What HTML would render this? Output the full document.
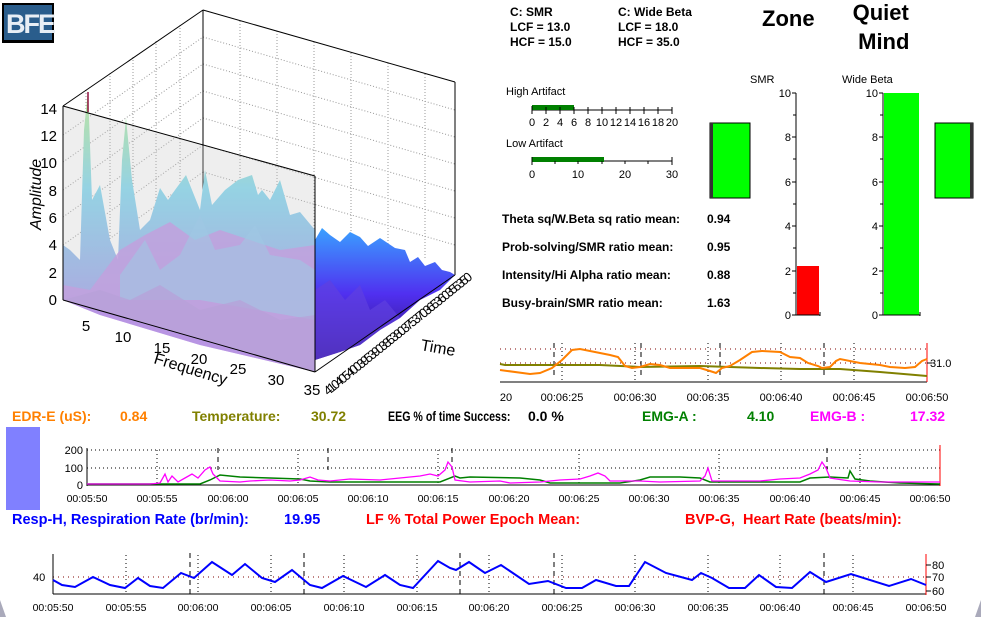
<!DOCTYPE html>
<html><head><meta charset="utf-8"><style>
body{margin:0;width:981px;height:617px;background:#fff;overflow:hidden;position:relative;font-family:"Liberation Sans",sans-serif}
.t{position:absolute;white-space:nowrap;font-weight:bold;font-size:12px;line-height:14px}
.b{position:absolute;white-space:nowrap;font-weight:bold;font-size:14px;line-height:17px}
.c{position:absolute;white-space:nowrap;font-weight:bold;font-size:14.5px;line-height:17px}
</style></head><body>
<svg width="981" height="617" style="position:absolute;left:0;top:0" font-family="Liberation Sans, sans-serif">
<defs>
<linearGradient id="pg" x1="0" y1="0" x2="0" y2="1"><stop offset="0" stop-color="#b8f090"/><stop offset="0.35" stop-color="#80d8f0"/><stop offset="1" stop-color="#b080e8"/></linearGradient>
<linearGradient id="bg" x1="0" y1="0" x2="0" y2="1"><stop offset="0" stop-color="#3aa0ff"/><stop offset="0.5" stop-color="#5030f0"/><stop offset="1" stop-color="#301070"/></linearGradient>
</defs>
<rect x="2" y="3" width="52" height="40" fill="#000"/><rect x="4" y="5" width="48" height="35" fill="#2a5d8c"/>
<text x="6" y="33" font-size="27" font-weight="bold" fill="#e8eef5" letter-spacing="-2">BFE</text>
<g stroke="#999" stroke-dasharray="1,2" stroke-width="1" fill="none">
<line x1="203" y1="37" x2="455" y2="110"/><line x1="203" y1="64" x2="455" y2="137"/><line x1="203" y1="91" x2="455" y2="164"/><line x1="203" y1="118" x2="455" y2="191"/><line x1="203" y1="145" x2="455" y2="218"/><line x1="203" y1="172" x2="455" y2="245"/>
<line x1="240" y1="21" x2="240" y2="250"/><line x1="277" y1="31" x2="277" y2="250"/><line x1="314" y1="42" x2="314" y2="250"/><line x1="351" y1="53" x2="351" y2="250"/><line x1="388" y1="63" x2="388" y2="250"/><line x1="425" y1="74" x2="425" y2="260"/>
<line x1="63" y1="135" x2="203" y2="37"/><line x1="63" y1="162" x2="203" y2="64"/><line x1="63" y1="190" x2="203" y2="91"/><line x1="63" y1="217" x2="203" y2="118"/><line x1="63" y1="245" x2="203" y2="145"/><line x1="63" y1="272" x2="203" y2="172"/>
<line x1="86" y1="90" x2="86" y2="290"/><line x1="110" y1="73" x2="110" y2="290"/><line x1="133" y1="57" x2="133" y2="290"/><line x1="156" y1="41" x2="156" y2="290"/><line x1="180" y1="25" x2="180" y2="290"/>
</g>
<g stroke="#000" stroke-width="1" fill="none">
<line x1="63" y1="106" x2="203" y2="10"/><line x1="203" y1="10" x2="455" y2="82"/><line x1="203" y1="10" x2="203" y2="200"/><line x1="455" y1="82" x2="455" y2="275"/>
</g>
<polygon fill="url(#pg)" points="63,245 70,250 80,260 84,130 88,90 92,200 100,185 110,240 118,260 122,160 126,118 132,180 140,230 150,220 160,188 168,200 175,190 186,175 200,210 205,170 212,205 225,190 238,180 252,175 258,195 262,190 270,200 280,180 290,215 300,212 315,230 315,372 63,300"/>
<polygon fill="#c090e8" opacity="0.85" points="63,285 90,290 120,250 145,235 170,222 195,240 220,230 250,240 280,250 315,245 315,372 200,345 100,315 63,300"/>
<polygon fill="#90c8f0" opacity="0.6" points="120,275 145,240 160,270 180,255 200,215 215,250 240,245 255,225 270,255 300,260 315,270 315,320 200,300 120,300"/>
<polygon fill="#b090e0" opacity="0.7" points="63,300 100,290 130,300 160,285 200,310 240,300 280,320 315,315 315,372 200,345 100,315"/>
<polygon fill="url(#bg)" points="315,240 322,228 330,235 340,242 350,232 360,237 368,246 380,238 395,248 405,250 410,262 418,257 425,266 435,262 442,270 450,272 455,275 440,290 420,300 400,318 380,330 360,345 340,352 315,360"/>
<polygon fill="#6040e0" opacity="0.7" points="315,290 330,280 345,300 360,285 370,310 385,300 400,318 380,330 360,345 340,352 315,360"/>
<polygon fill="#c8c8c8" opacity="0.3" points="63,106 315,176 315,372 63,300"/>
<g stroke="#000" fill="none"><line x1="63" y1="106" x2="315" y2="176"/><line x1="315" y1="176" x2="315" y2="372"/><line x1="63" y1="106" x2="63" y2="300"/><line x1="63" y1="300" x2="315" y2="372"/><line x1="315" y1="372" x2="455" y2="275"/></g>
<line x1="88" y1="92" x2="88" y2="112" stroke="#901040" stroke-width="1.5"/>
<g font-size="15" fill="#000" text-anchor="end">
<text x="57" y="305">0</text><text x="57" y="278">2</text><text x="57" y="250">4</text><text x="57" y="223">6</text><text x="57" y="196">8</text><text x="57" y="168">10</text><text x="57" y="141">12</text><text x="57" y="114">14</text>
</g>
<text transform="translate(41,230) rotate(-90)" font-size="16" font-style="italic">Amplitude</text>
<g font-size="15" fill="#000" text-anchor="middle">
<text x="86" y="331">5</text><text x="123" y="342">10</text><text x="162" y="353">15</text><text x="199" y="364">20</text><text x="238" y="374">25</text><text x="276" y="385">30</text><text x="312" y="395">35</text>
</g>
<text transform="translate(153,363) rotate(17)" font-size="16">Frequency</text>
<text transform="translate(328,396) rotate(-39)" font-size="13" letter-spacing="-2.5">410405400395390385380375370365360355350</text>
<text x="420" y="350" font-size="16" transform="rotate(10 420 350)">Time</text>
<g stroke="#000" fill="none">
<line x1="532" y1="110" x2="672" y2="110"/><line x1="532" y1="161" x2="672" y2="161"/>
</g>
<rect x="532" y="105" width="42" height="5" fill="#008000"/>
<rect x="532" y="157" width="72" height="5" fill="#008000"/>
<g stroke="#000">
<line x1="532" y1="106" x2="532" y2="114"/><line x1="546" y1="107" x2="546" y2="114"/><line x1="560" y1="107" x2="560" y2="114"/><line x1="574" y1="107" x2="574" y2="114"/><line x1="588" y1="107" x2="588" y2="114"/><line x1="602" y1="107" x2="602" y2="114"/><line x1="616" y1="107" x2="616" y2="114"/><line x1="630" y1="107" x2="630" y2="114"/><line x1="644" y1="107" x2="644" y2="114"/><line x1="658" y1="107" x2="658" y2="114"/><line x1="672" y1="107" x2="672" y2="114"/>
<line x1="532" y1="157" x2="532" y2="165"/><line x1="555" y1="161" x2="555" y2="164"/><line x1="578" y1="161" x2="578" y2="164"/><line x1="602" y1="161" x2="602" y2="164"/><line x1="625" y1="161" x2="625" y2="164"/><line x1="648" y1="161" x2="648" y2="164"/><line x1="672" y1="157" x2="672" y2="165"/>
</g>
<g font-size="11" text-anchor="middle">
<text x="532" y="126">0</text><text x="546" y="126">2</text><text x="560" y="126">4</text><text x="574" y="126">6</text><text x="588" y="126">8</text><text x="602" y="126">10</text><text x="616" y="126">12</text><text x="630" y="126">14</text><text x="644" y="126">16</text><text x="658" y="126">18</text><text x="672" y="126">20</text>
<text x="532" y="178">0</text><text x="578" y="178">10</text><text x="625" y="178">20</text><text x="672" y="178">30</text>
</g>
<text x="506" y="95" font-size="11">High Artifact</text><text x="506" y="147" font-size="11">Low Artifact</text>
<rect x="710" y="123" width="40" height="75" fill="#00ff00" stroke="#000"/><rect x="710" y="123" width="3" height="75" fill="#333"/>
<rect x="935" y="123" width="38" height="75" fill="#00ff00" stroke="#000"/><rect x="970" y="123" width="3" height="75" fill="#333"/>
<text x="750" y="83" font-size="11">SMR</text><text x="842" y="83" font-size="11">Wide Beta</text>
<rect x="797" y="266" width="22" height="49" fill="#ff0000"/>
<rect x="884" y="93" width="35" height="222" fill="#00ff00"/>
<g stroke="#000"><line x1="796" y1="93" x2="796" y2="315"/><line x1="796" y1="315" x2="820" y2="315"/><line x1="820" y1="312" x2="820" y2="316"/>
<line x1="883" y1="93" x2="883" y2="315"/><line x1="883" y1="315" x2="920" y2="315"/><line x1="920" y1="312" x2="920" y2="316"/>
<path d="M792 93h4M793 115h3M792 137h4M793 159h3M792 182h4M793 204h3M792 226h4M793 248h3M792 271h4M793 293h3M792 315h4"/>
<path d="M879 93h4M880 115h3M879 137h4M880 159h3M879 182h4M880 204h3M879 226h4M880 248h3M879 271h4M880 293h3M879 315h4"/>
</g>
<g font-size="11" text-anchor="end">
<text x="791" y="97">10</text><text x="791" y="141">8</text><text x="791" y="186">6</text><text x="791" y="230">4</text><text x="791" y="275">2</text><text x="791" y="319">0</text>
<text x="878" y="97">10</text><text x="878" y="141">8</text><text x="878" y="186">6</text><text x="878" y="230">4</text><text x="878" y="275">2</text><text x="878" y="319">0</text>
</g>
<g stroke="#800000" stroke-dasharray="1,4"><line x1="500" y1="349" x2="927" y2="349"/><line x1="500" y1="363" x2="927" y2="363"/></g>
<g stroke="#000" stroke-dasharray="1,3"><line x1="635" y1="343" x2="635" y2="382"/><line x1="708" y1="343" x2="708" y2="382"/><line x1="781" y1="343" x2="781" y2="382"/><line x1="854" y1="343" x2="854" y2="382"/><line x1="562" y1="343" x2="562" y2="382"/></g>
<g stroke="#000" stroke-dasharray="5,4"><line x1="554" y1="343" x2="554" y2="375"/><line x1="641" y1="343" x2="641" y2="375"/><line x1="720" y1="343" x2="720" y2="375"/><line x1="824" y1="343" x2="824" y2="375"/></g>
<line x1="500" y1="382" x2="927" y2="382" stroke="#000"/>
<line x1="927" y1="343" x2="927" y2="382" stroke="#ff0000"/>
<line x1="927" y1="363" x2="932" y2="363" stroke="#000"/>
<polyline fill="none" stroke="#808000" stroke-width="2" points="500,364 505,365 600,365 640,367 700,366 760,368 800,369 840,369 880,372 927,376"/>
<polyline fill="none" stroke="#ff8000" stroke-width="2" points="500,370 530,374 540,373 552,368 562,360 572,350 580,349 600,353 610,355 618,357 625,366 632,368 640,367 650,364 660,365 670,368 680,368 700,368 710,371 716,373 722,368 730,366 740,360 752,352 762,351 780,352 790,357 800,358 808,363 818,366 822,368 830,367 836,361 840,359 860,363 880,365 890,367 905,368 915,367 922,361 927,359"/>
<g font-size="11" text-anchor="middle"><text x="506" y="401">20</text><text x="562" y="401">00:06:25</text><text x="635" y="401">00:06:30</text><text x="708" y="401">00:06:35</text><text x="781" y="401">00:06:40</text><text x="854" y="401">00:06:45</text><text x="927" y="401">00:06:50</text></g>
<text x="930" y="367" font-size="11">31.0</text>
<rect x="6" y="427" width="34" height="83" fill="#8080ff"/>
<g stroke="#000" stroke-dasharray="1,3"><line x1="87" y1="450" x2="940" y2="450"/><line x1="87" y1="468" x2="940" y2="468"/>
<line x1="157" y1="450" x2="157" y2="485"/><line x1="298" y1="450" x2="298" y2="485"/><line x1="438" y1="450" x2="438" y2="485"/><line x1="579" y1="450" x2="579" y2="485"/><line x1="719" y1="450" x2="719" y2="485"/><line x1="860" y1="450" x2="860" y2="485"/></g>
<g stroke="#000" stroke-dasharray="5,4"><line x1="218" y1="448" x2="218" y2="470"/><line x1="328" y1="448" x2="328" y2="470"/><line x1="452" y1="448" x2="452" y2="470"/><line x1="827" y1="448" x2="827" y2="470"/></g>
<line x1="87" y1="448" x2="87" y2="486" stroke="#000"/><line x1="87" y1="485" x2="940" y2="485" stroke="#000"/>
<line x1="940" y1="445" x2="940" y2="486" stroke="#ff0000"/>
<g font-size="11" text-anchor="end"><text x="83" y="454">200</text><text x="83" y="472">100</text><text x="83" y="489">0</text></g>
<polyline fill="none" stroke="#008000" stroke-width="1.5" points="87,484 200,484 210,480 220,475 240,477 270,478 300,479 310,481 330,482 420,482 440,482 455,476 460,478 470,477 520,478 540,480 550,483 620,483 640,480 650,477 680,477 700,478 710,482 780,482 800,482 810,478 830,477 848,478 850,471 855,479 870,481 900,483 940,484"/>
<polyline fill="none" stroke="#ff00ff" stroke-width="1.3" points="87,484 150,484 160,483 165,474 168,482 172,476 178,482 185,478 192,474 198,478 205,470 210,467 213,474 220,481 240,482 250,481 270,480 290,481 300,480 310,477 318,480 330,481 350,479 380,480 400,478 420,476 430,474 438,476 445,470 448,462 452,467 455,480 470,482 500,481 510,483 540,482 560,480 580,479 590,476 598,473 605,476 610,481 640,481 660,482 700,481 705,476 708,468 712,481 760,481 780,479 800,478 810,474 818,470 822,462 826,468 830,478 850,481 880,482 940,482"/>
<g font-size="10.5" text-anchor="middle"><text x="87" y="502">00:05:50</text><text x="157" y="502">00:05:55</text><text x="228" y="502">00:06:00</text><text x="298" y="502">00:06:05</text><text x="368" y="502">00:06:10</text><text x="438" y="502">00:06:15</text><text x="509" y="502">00:06:20</text><text x="579" y="502">00:06:25</text><text x="649" y="502">00:06:30</text><text x="719" y="502">00:06:35</text><text x="790" y="502">00:06:40</text><text x="860" y="502">00:06:45</text><text x="930" y="502">00:06:50</text></g>
<line x1="53" y1="577" x2="926" y2="577" stroke="#800000" stroke-dasharray="1,4"/>
<g stroke="#000" stroke-dasharray="1,3"><line x1="126" y1="555" x2="126" y2="594"/><line x1="198" y1="555" x2="198" y2="594"/><line x1="271" y1="555" x2="271" y2="594"/><line x1="344" y1="555" x2="344" y2="594"/><line x1="417" y1="555" x2="417" y2="594"/><line x1="489" y1="555" x2="489" y2="594"/><line x1="562" y1="555" x2="562" y2="594"/><line x1="635" y1="555" x2="635" y2="594"/><line x1="708" y1="555" x2="708" y2="594"/><line x1="780" y1="555" x2="780" y2="594"/><line x1="853" y1="555" x2="853" y2="594"/></g>
<g stroke="#000" stroke-dasharray="5,4"><line x1="190" y1="553" x2="190" y2="594"/><line x1="304" y1="553" x2="304" y2="594"/><line x1="460" y1="553" x2="460" y2="594"/><line x1="554" y1="553" x2="554" y2="594"/><line x1="824" y1="553" x2="824" y2="594"/></g>
<line x1="53" y1="554" x2="53" y2="594" stroke="#000"/><line x1="53" y1="594" x2="926" y2="594" stroke="#000"/>
<line x1="926" y1="554" x2="926" y2="595" stroke="#ff0000"/>
<path d="M926 565h5M926 577h5M926 591h5" stroke="#000"/>
<g font-size="11"><text x="33" y="581">40</text><text x="932" y="569">80</text><text x="932" y="581">70</text><text x="932" y="595">60</text></g>
<polyline fill="none" stroke="#0000ff" stroke-width="2" points="53,580 62,585 75,587 93,577 110,585 125,588 138,578 150,586 163,588 181,573 194,578 212,562 232,575 245,564 262,578 275,582 292,570 310,585 322,588 343,576 366,587 385,575 400,585 413,588 438,561 450,568 456,570 469,562 485,573 501,565 529,584 548,581 566,588 582,588 596,580 616,586 629,586 645,562 666,573 692,580 701,573 712,578 729,588 745,588 759,575 776,587 792,588 810,572 826,582 851,574 889,586 911,579 926,585"/>
<g font-size="10.5" text-anchor="middle"><text x="53" y="611">00:05:50</text><text x="126" y="611">00:05:55</text><text x="198" y="611">00:06:00</text><text x="271" y="611">00:06:05</text><text x="344" y="611">00:06:10</text><text x="417" y="611">00:06:15</text><text x="489" y="611">00:06:20</text><text x="562" y="611">00:06:25</text><text x="635" y="611">00:06:30</text><text x="708" y="611">00:06:35</text><text x="780" y="611">00:06:40</text><text x="853" y="611">00:06:45</text><text x="926" y="611">00:06:50</text></g>
<polygon points="0,600 6,617 0,617" fill="#aab"/><polygon points="981,600 975,617 981,617" fill="#aab"/>
</svg>
<div class="t" style="left:510px;top:5px">C: SMR</div>
<div class="t" style="left:510px;top:20px">LCF = 13.0</div>
<div class="t" style="left:510px;top:35px">HCF = 15.0</div>
<div class="t" style="left:618px;top:5px">C: Wide Beta</div>
<div class="t" style="left:618px;top:20px">LCF = 18.0</div>
<div class="t" style="left:618px;top:35px">HCF = 35.0</div>
<div class="t" style="left:762px;top:6px;font-size:22px;line-height:26px">Zone</div>
<div class="t" style="left:852px;top:-2px;font-size:22px;line-height:29px;text-align:center">Quiet<br>&nbsp;Mind</div>
<div class="t" style="left:502px;top:212px">Theta sq/W.Beta sq ratio mean:</div><div class="t" style="left:707px;top:212px">0.94</div>
<div class="t" style="left:502px;top:240px">Prob-solving/SMR ratio mean:</div><div class="t" style="left:707px;top:240px">0.95</div>
<div class="t" style="left:502px;top:268px">Intensity/Hi Alpha ratio mean:</div><div class="t" style="left:707px;top:268px">0.88</div>
<div class="t" style="left:502px;top:296px">Busy-brain/SMR ratio mean:</div><div class="t" style="left:707px;top:296px">1.63</div>
<div class="b" style="left:12px;top:408px;color:#ff8000">EDR-E (uS):</div>
<div class="b" style="left:120px;top:408px;color:#ff8000">0.84</div>
<div class="b" style="left:192px;top:408px;color:#808000">Temperature:</div>
<div class="b" style="left:311px;top:408px;color:#808000">30.72</div>
<div class="b" style="left:388px;top:408px;color:#000;transform:scaleX(0.76);transform-origin:0 0">EEG % of time Success:</div>
<div class="b" style="left:528px;top:408px;color:#000">0.0 %</div>
<div class="b" style="left:642px;top:408px;color:#008000">EMG-A :</div>
<div class="b" style="left:747px;top:408px;color:#008000">4.10</div>
<div class="b" style="left:810px;top:408px;color:#ff00ff">EMG-B :</div>
<div class="b" style="left:910px;top:408px;color:#ff00ff">17.32</div>
<div class="c" style="left:12px;top:512px;color:#0000ff">Resp-H, Respiration Rate (br/min):</div>
<div class="c" style="left:284px;top:512px;color:#0000ff">19.95</div>
<div class="c" style="left:366px;top:512px;color:#ff0000">LF % Total Power Epoch Mean:</div>
<div class="c" style="left:685px;top:512px;color:#ff0000">BVP-G,&nbsp; Heart Rate (beats/min):</div>
</body></html>
